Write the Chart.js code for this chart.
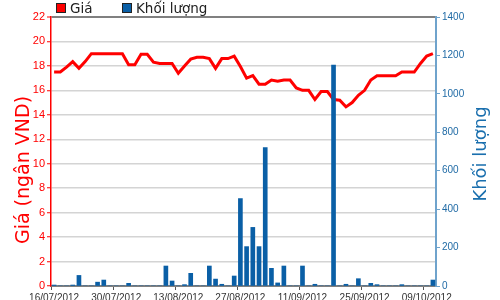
<!DOCTYPE html>
<html>
<head>
<meta charset="utf-8">
<script src="https://cdn.jsdelivr.net/npm/chart.js"></script>
<style>
  body { margin: 0; background: #fff; }
  canvas { display: block; }
</style>
</head>
<body>
<canvas id="priceChart" width="500" height="300"></canvas>
<script>
// trading days shown on the x axis
var dates = [
  '16/07/2012','17/07/2012','18/07/2012','19/07/2012','20/07/2012',
  '23/07/2012','24/07/2012','25/07/2012','26/07/2012','27/07/2012',
  '30/07/2012','31/07/2012','01/08/2012','02/08/2012','03/08/2012',
  '06/08/2012','07/08/2012','08/08/2012','09/08/2012','10/08/2012',
  '13/08/2012','14/08/2012','15/08/2012','16/08/2012','17/08/2012',
  '20/08/2012','21/08/2012','22/08/2012','23/08/2012','24/08/2012',
  '27/08/2012','28/08/2012','29/08/2012','30/08/2012','31/08/2012',
  '04/09/2012','05/09/2012','06/09/2012','07/09/2012',
  '10/09/2012','11/09/2012','12/09/2012','13/09/2012','14/09/2012',
  '17/09/2012','18/09/2012','19/09/2012','20/09/2012','21/09/2012',
  '24/09/2012','25/09/2012','26/09/2012','27/09/2012','28/09/2012',
  '01/10/2012','02/10/2012','03/10/2012','04/10/2012','05/10/2012',
  '08/10/2012','09/10/2012','10/10/2012'
];

// labels printed under the axis
var tickDates = ['16/07/2012','30/07/2012','13/08/2012','27/08/2012','11/09/2012','25/09/2012','09/10/2012'];

// price (thousand VND)
var prices = [
  17.5, 17.5, 17.9, 18.35, 17.8, 18.35, 19.0, 19.0, 19.0, 19.0,
  19.0, 19.0, 18.1, 18.1, 18.95, 18.95, 18.3, 18.2, 18.2, 18.2,
  17.4, 18.0, 18.55, 18.7, 18.7, 18.6, 17.8, 18.6, 18.6, 18.8,
  17.95, 17.0, 17.2, 16.5, 16.5, 16.85, 16.75, 16.85, 16.85, 16.2,
  16.0, 16.0, 15.25, 15.9, 15.9, 15.25, 15.2, 14.65, 15.0, 15.6,
  16.0, 16.85, 17.2, 17.2, 17.2, 17.2, 17.5, 17.5, 17.5, 18.2,
  18.8, 19.0
];

// traded volume
var volumes = [
  5, 0, 0, 5, 55, 0, 0, 20, 31, 0,
  0, 0, 14, 0, 0, 0, 0, 0, 104, 26,
  0, 7, 66, 0, 0, 104, 36, 9, 0, 52,
  455, 205, 305, 205, 720, 92, 16, 104, 0, 0,
  104, 0, 9, 0, 0, 1150, 0, 9, 0, 38,
  0, 14, 7, 0, 0, 0, 7, 0, 0, 0,
  0, 31
];

var RED = '#ff0000';
var BLUE = '#0a5fa6';

Chart.defaults.font.family = '"Liberation Sans", Arial, sans-serif';

// legend boxes + axis titles (right title reads bottom-to-top like the left one)
var decorations = {
  id: 'decorations',
  afterDraw: function(chart) {
    var ctx = chart.ctx;
    ctx.save();

    var items = [
      { text: chart.data.datasets[0].label, color: RED, x: 56 },
      { text: chart.data.datasets[1].label, color: BLUE, x: 122 }
    ];
    ctx.font = '13.5px "DejaVu Sans"';
    ctx.textBaseline = 'middle';
    ctx.textAlign = 'left';
    items.forEach(function(it) {
      ctx.fillStyle = it.color;
      ctx.fillRect(it.x, 3, 10, 10);
      ctx.strokeStyle = '#222';
      ctx.lineWidth = 1;
      ctx.strokeRect(it.x + 0.5, 3.5, 9, 9);
      ctx.fillStyle = '#222';
      ctx.fillText(it.text, it.x + 14, 9);
    });

    ctx.textAlign = 'center';
    ctx.textBaseline = 'alphabetic';

    ctx.save();
    ctx.translate(29, 170);
    ctx.rotate(-Math.PI / 2);
    ctx.font = '19px "DejaVu Sans"';
    ctx.fillStyle = RED;
    ctx.fillText('Giá (ngân VND)', 0, 0);
    ctx.restore();

    ctx.save();
    ctx.translate(486, 154);
    ctx.rotate(-Math.PI / 2);
    ctx.font = '18px "DejaVu Sans"';
    ctx.fillStyle = '#1a6fae';
    ctx.fillText('Khối lượng', 0, 0);
    ctx.restore();

    ctx.restore();
  }
};

var ctx = document.getElementById('priceChart').getContext('2d');

var priceChart = new Chart(ctx, {
  type: 'bar',
  data: {
    labels: dates,
    datasets: [{
      type: 'line',
      label: 'Giá',
      data: prices,
      yAxisID: 'y',
      borderColor: RED,
      backgroundColor: RED,
      borderWidth: 3,
      pointRadius: 0,
      tension: 0,
      order: 2
    }, {
      type: 'bar',
      label: 'Khối lượng',
      data: volumes,
      yAxisID: 'y1',
      backgroundColor: BLUE,
      borderWidth: 0,
      barThickness: 4,
      order: 1
    }]
  },
  options: {
    responsive: false,
    animation: false,
    layout: { padding: { top: 17 } },
    plugins: {
      legend: { display: false },
      tooltip: { enabled: false }
    },
    scales: {
      x: {
        offset: true,
        grid: {
          drawOnChartArea: false,
          tickLength: 4,
          tickColor: function(c) { return tickDates.indexOf(dates[c.index]) >= 0 ? '#555' : 'rgba(0,0,0,0)'; }
        },
        border: { color: '#808080', width: 2 },
        ticks: {
          autoSkip: false,
          maxRotation: 0,
          padding: 2,
          color: '#333',
          font: { size: 10 },
          callback: function(v, i) { return tickDates.indexOf(dates[i]) >= 0 ? dates[i] : ''; }
        },
        afterFit: function(s) { s.height = 14; }
      },
      y: {
        position: 'left',
        min: 0,
        max: 22,
        ticks: { stepSize: 2, color: RED, font: { size: 11 }, padding: 2 },
        grid: {
          color: function(c) { return c.tick.value === 22 ? '#808080' : '#d4d4d4'; },
          lineWidth: function(c) { return c.tick.value === 22 ? 2 : 1.5; },
          tickColor: RED,
          tickWidth: 1,
          tickLength: 4
        },
        border: { color: RED, width: 1.5 },
        afterFit: function(s) { s.width = 51; }
      },
      y1: {
        position: 'right',
        min: 0,
        max: 1400,
        ticks: {
          stepSize: 200,
          color: '#1f6aa5',
          font: { size: 10 },
          padding: 2,
          callback: function(v) { return String(v); }
        },
        grid: { drawOnChartArea: false, tickColor: '#6fa3cc', tickLength: 4 },
        border: { color: '#6fa3cc', width: 2 },
        afterFit: function(s) { s.width = 64; }
      }
    }
  },
  plugins: [decorations]
});
</script>
</body>
</html>
